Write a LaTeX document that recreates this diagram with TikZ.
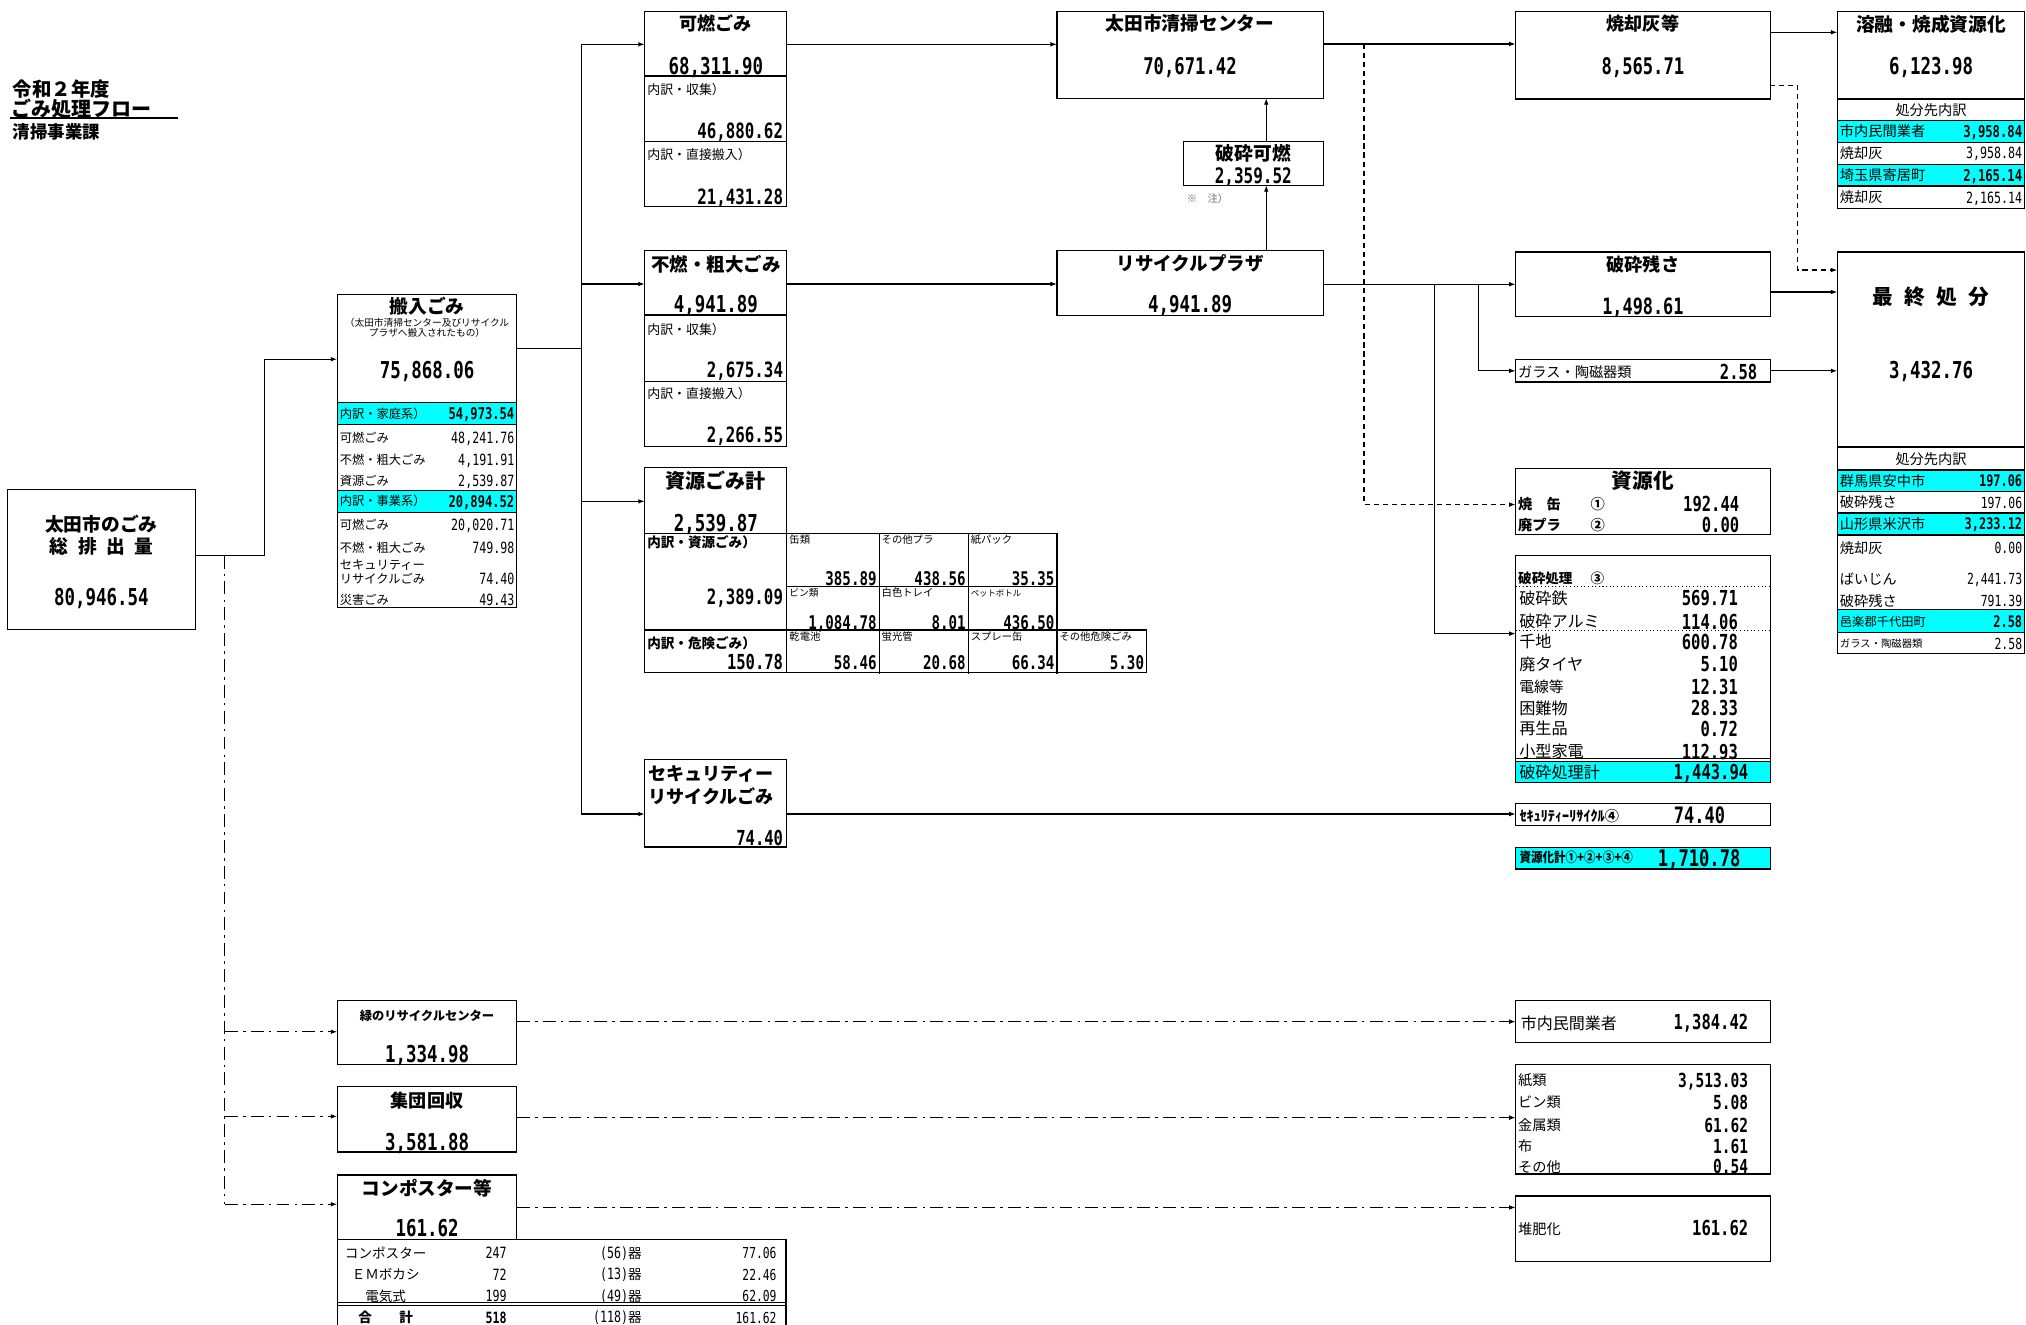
\documentclass[tikz,border=0pt]{standalone}
\usepackage{fontspec}
\usepackage{graphicx}
\setmainfont{Noto Sans CJK JP}
\newfontfamily\nf{DejaVu Sans Mono}[FakeStretch=0.75]
\usetikzlibrary{arrows.meta,fit}
\definecolor{cy}{RGB}{0,255,255}
\definecolor{notegray}{RGB}{110,110,110}
\newcounter{nn}
\newcommand\Lt[4]{\stepcounter{nn}\node[#1,anchor=west] (l\arabic{nn}) at (#2,#3) {#4};}
\newcommand\Rt[4]{\stepcounter{nn}\node[#1,anchor=east] (r\arabic{nn}) at (#2,#3) {#4};}
\newcommand\Ct[4]{\stepcounter{nn}\node[#1] (c\arabic{nn}) at (#2,#3) {#4};}
\newcommand\Bx[5]{\node[bx, fit={(#2,#3) (#4,#5)}] (#1) {};}
\tikzset{
  every node/.style={inner sep=0pt, outer sep=0pt},
  bx/.style={draw, line width=0.9pt, inner sep=0pt},
  ln/.style={line width=0.9pt},
  ar/.style={line width=0.9pt, -{Latex[length=5pt,width=3.6pt]}},
  dsh/.style={dash pattern=on 4pt off 3pt},
  ddot/.style={dash pattern=on 10pt off 4pt on 2pt off 4pt},
  jl/.style={font=\fontsize{#1}{#1}\selectfont, /utils/exec={\pgfmathsetmacro\myth{0.8*#1}\pgfmathsetmacro\mytd{0.06*#1}}, text height=\myth pt, text depth=\mytd pt},
  jb/.style={jl=#1, font=\bfseries\fontsize{#1}{#1}\selectfont},
  nr/.style={font=\nf\fontsize{#1}{#1}\selectfont, /utils/exec={\pgfmathsetmacro\myth{0.73*#1}}, text height=\myth pt, text depth=0pt},
  nb/.style={nr=#1, font=\nf\bfseries\fontsize{#1}{#1}\selectfont},
}
\begin{document}
\begin{tikzpicture}[x=1pt,y=-1pt]
\useasboundingbox (0,0) rectangle (1568,1025);
\clip (0,0) rectangle (1568,1025);
\fill[white] (0,0) rectangle (1568,1025);

% ---------- title
\Lt{jb=15}{10}{69}{令和２年度}
\Lt{jb=15.5}{9}{84.5}{ごみ処理フロー}
\draw[line width=1.1pt] (8,91.3) -- (138,91.3);
\Lt{jb=13.5}{10}{102}{清掃事業課}

% ---------- A total
\Bx{A}{6}{379}{151}{487}
\Ct{jb=14.5}{78.5}{406}{太田市のごみ}
\Ct{jb=14.5}{78.5}{423}{総\hspace{0.5em}排\hspace{0.5em}出\hspace{0.5em}量}
\Ct{nb=18}{78.5}{462}{80,946.54}

% ---------- B 搬入ごみ
\fill[cy] (261,311.5) rectangle (400,328.5);
\fill[cy] (261,379.5) rectangle (400,396.5);
\Bx{B}{261}{228}{400}{470}
\draw[ln] (261,311.5) -- (400,311.5) (261,328.5) -- (400,328.5) (261,379.5) -- (400,379.5) (261,396.5) -- (400,396.5);
\Ct{jb=14.5}{330.5}{237}{搬入ごみ}
\Ct{jl=7.5}{330.5}{250}{（太田市清掃センター及びリサイクル}
\Ct{jl=7.5}{330.5}{258}{プラザへ搬入されたもの）}
\Ct{nb=18}{330.5}{286}{75,868.06}
\Lt{jl=9.5}{263}{320}{内訳・家庭系）}\Rt{nb=12.5}{398}{320}{54,973.54}
\Lt{jl=9.5}{263}{339}{可燃ごみ}\Rt{nr=12}{398}{339}{48,241.76}
\Lt{jl=9.5}{263}{356}{不燃・粗大ごみ}\Rt{nr=12}{398}{356}{4,191.91}
\Lt{jl=9.5}{263}{372}{資源ごみ}\Rt{nr=12}{398}{372}{2,539.87}
\Lt{jl=9.5}{263}{388}{内訳・事業系）}\Rt{nb=12.5}{398}{388}{20,894.52}
\Lt{jl=9.5}{263}{406}{可燃ごみ}\Rt{nr=12}{398}{406}{20,020.71}
\Lt{jl=9.5}{263}{424}{不燃・粗大ごみ}\Rt{nr=12}{398}{424}{749.98}
\Lt{jl=9.5}{263}{437}{セキュリティー}
\Lt{jl=9.5}{263}{448}{リサイクルごみ}\Rt{nr=12}{398}{448}{74.40}
\Lt{jl=9.5}{263}{464.5}{災害ごみ}\Rt{nr=12}{398}{464.5}{49.43}

% ---------- 可燃ごみ
\Bx{K}{499}{9}{609}{160}
\draw[ln] (499,58.8) -- (609,58.8) (499,109.4) -- (609,109.4);
\Ct{jb=14}{554}{18.6}{可燃ごみ}
\Ct{nb=18}{554}{50.8}{68,311.90}
\Lt{jl=10}{501}{69.7}{内訳・収集）}
\Rt{nb=16.3}{606}{101.4}{46,880.62}
\Lt{jl=10}{501}{120}{内訳・直接搬入）}
\Rt{nb=16.3}{606}{152}{21,431.28}

% ---------- 不燃・粗大ごみ
\Bx{F}{499}{194}{609}{345.5}
\draw[ln] (499,243.8) -- (609,243.8) (499,295) -- (609,295);
\Ct{jb=14.3}{554}{204.6}{不燃・粗大ごみ}
\Ct{nb=18}{554}{235.5}{4,941.89}
\Lt{jl=10}{501}{255}{内訳・収集）}
\Rt{nb=16.3}{606}{286}{2,675.34}
\Lt{jl=10}{501}{305}{内訳・直接搬入）}
\Rt{nb=16.3}{606}{336.7}{2,266.55}

% ---------- 資源ごみ計
\Bx{S}{499}{362}{609}{520.6}
\draw[ln] (499,412.6) -- (818,412.6) -- (818,522);
\draw[ln] (609,454) -- (818,454);
\draw[ln] (499,487.6) -- (887.4,487.6) -- (887.4,520.6) -- (609,520.6);
\draw[ln] (680.4,412.6) -- (680.4,522) (749.3,412.6) -- (749.3,522);
\Ct{jb=15.5}{554}{372}{資源ごみ計}
\Ct{nb=18}{554}{405}{2,539.87}
\Lt{jb=10.5}{501}{419.5}{内訳・資源ごみ）}
\Rt{nb=16.3}{606}{462}{2,389.09}
\Lt{jb=10.5}{501}{498}{内訳・危険ごみ）}
\Rt{nb=16}{606}{512}{150.78}
\Lt{jl=8}{611}{418}{缶類}\Rt{nb=14.6}{678.4}{447.5}{385.89}
\Lt{jl=8}{682.4}{418}{その他プラ}\Rt{nb=14.6}{747.3}{447.5}{438.56}
\Lt{jl=8}{751.3}{418}{紙パック}\Rt{nb=14.6}{816}{447.5}{35.35}
\Lt{jl=7.5}{611}{459}{ビン類}\Rt{nb=14.6}{678.4}{481.5}{1,084.78}
\Lt{jl=8}{682.4}{459}{白色トレイ}\Rt{nb=14.6}{747.3}{481.5}{8.01}
\Lt{jl=6.5}{751.3}{459}{ペットボトル}\Rt{nb=14.6}{816}{481.5}{436.50}
\Lt{jl=8}{611}{493}{乾電池}\Rt{nb=14.6}{678.4}{513}{58.46}
\Lt{jl=8}{682.4}{493}{蛍光管}\Rt{nb=14.6}{747.3}{513}{20.68}
\Lt{jl=8}{751.3}{493}{スプレー缶}\Rt{nb=14.6}{816}{513}{66.34}
\Lt{jl=8}{820}{493}{その他危険ごみ}\Rt{nb=14.6}{885.4}{513}{5.30}

% ---------- セキュリティーリサイクルごみ
\Bx{SR}{499}{588}{609}{655.5}
\Lt{jb=14}{501.6}{599}{セキュリティー}
\Lt{jb=14}{501.6}{617}{リサイクルごみ}
\Rt{nb=16}{606}{648.6}{74.40}

% ---------- 清掃センター / 破砕可燃 / リサイクルプラザ
\Bx{CT}{818}{9}{1024}{76}
\Ct{jb=14.5}{921}{18.6}{太田市清掃センター}
\Ct{nb=17.8}{921}{50.8}{70,671.42}
\Bx{HK}{916}{109.4}{1024}{143.4}
\Ct{jb=14.5}{970}{119}{破砕可燃}
\Ct{nb=16.5}{970}{136}{2,359.52}
\Lt{jl=8,text=notegray}{918.6}{154}{※\hspace{1em}注）}
\Bx{PZ}{818}{194}{1024}{244}
\Ct{jb=14.3}{921}{204}{リサイクルプラザ}
\Ct{nb=18}{921}{235.5}{4,941.89}

% ---------- column 4
\Bx{ASH}{1173}{9}{1370}{76.6}
\Ct{jb=14}{1271.5}{18.7}{焼却灰等}
\Ct{nb=17.7}{1271.5}{51}{8,565.71}
\Bx{ZS}{1173}{195}{1370}{245}
\Ct{jb=14}{1271.5}{205}{破砕残さ}
\Ct{nb=17.4}{1271.5}{237}{1,498.61}
\Bx{GL}{1173}{278}{1370}{295.7}
\Lt{jl=11}{1175}{288}{ガラス・陶磁器類}
\Rt{nb=16}{1360}{287.5}{2.58}
\Bx{SG}{1173}{362.5}{1370}{413.8}
\Ct{jb=16}{1271.5}{372.3}{資源化}
\Lt{jb=11}{1175}{390.5}{焼　缶}\Lt{jb=11}{1231}{390.5}{①}\Rt{nb=16}{1346}{390}{192.44}
\Lt{jb=11}{1175}{406.5}{廃プラ}\Lt{jb=11}{1231}{406.5}{②}\Rt{nb=16}{1346}{406}{0.00}
\fill[cy] (1173,589) rectangle (1370,605.5);
\Bx{HS}{1173}{430}{1370}{605.5}
\draw[dotted, line width=0.8pt] (1173,454) -- (1370,454) (1173,488) -- (1370,488);
\draw[line width=0.6pt] (1173,587.3) -- (1370,587.3);
\draw[ln] (1173,589.3) -- (1370,589.3);
\Lt{jb=10.5}{1175}{447.5}{破砕処理}\Lt{jb=10.5}{1231}{447.5}{③}
\Lt{jl=12.5}{1175.8}{463}{破砕鉄}\Rt{nb=16}{1345}{463}{569.71}
\Lt{jl=12.5}{1175.8}{481}{破砕アルミ}\Rt{nb=16}{1345}{481}{114.06}
\Lt{jl=12.5}{1175.8}{496.6}{千地}\Rt{nb=16}{1345}{496.6}{600.78}
\Lt{jl=12.5}{1175.8}{514}{廃タイヤ}\Rt{nb=16}{1345}{514}{5.10}
\Lt{jl=11.5}{1175.8}{531.4}{電線等}\Rt{nb=16}{1345}{531.4}{12.31}
\Lt{jl=12.5}{1175.8}{548}{困難物}\Rt{nb=16}{1345}{548}{28.33}
\Lt{jl=12.5}{1175.8}{564}{再生品}\Rt{nb=16}{1345}{564}{0.72}
\Lt{jl=12.5}{1175.8}{581.7}{小型家電}\Rt{nb=16}{1345}{581.7}{112.93}
\Lt{jl=12.5}{1175.8}{598}{破砕処理計}\Rt{nb=16}{1353}{597.5}{1,443.94}
\Bx{S4}{1173}{622}{1370}{639}
\Lt{jb=11}{1176}{631.5}{ｾｷｭﾘﾃｨｰﾘｻｲｸﾙ④}
\Rt{nb=17.5}{1335}{631}{74.40}
\fill[cy] (1173,655.7) rectangle (1370,672.5);
\Bx{KEI}{1173}{655.7}{1370}{672.5}
\Lt{jb=10.5}{1176}{664}{\scalebox{0.85}[1]{資源化計①+②+③+④}}
\Rt{nb=17.7}{1347}{664}{1,710.78}
\Bx{MN}{1173}{774.5}{1370}{807}
\Lt{jl=12.4}{1177}{792}{市内民間業者}
\Rt{nb=16}{1353}{791}{1,384.42}
\Bx{KM}{1173}{824}{1370}{908.6}
\Lt{jl=11}{1175}{835.8}{紙類}\Rt{nb=15}{1353}{835.8}{3,513.03}
\Lt{jl=11}{1175}{853.4}{ビン類}\Rt{nb=15}{1353}{853.4}{5.08}
\Lt{jl=11}{1175}{870.7}{金属類}\Rt{nb=15}{1353}{870.7}{61.62}
\Lt{jl=11}{1175}{887}{布}\Rt{nb=15}{1353}{887}{1.61}
\Lt{jl=11}{1175}{903}{その他}\Rt{nb=15}{1353}{903}{0.54}
\Bx{TH}{1173}{925.6}{1370}{976}
\Lt{jl=11}{1175}{951.3}{堆肥化}
\Rt{nb=16}{1353}{950.5}{161.62}

% ---------- column 5
\fill[cy] (1422,93.4) rectangle (1567,110);
\fill[cy] (1422,127) rectangle (1567,144);
\Bx{YY}{1422}{9}{1567}{161.6}
\draw[ln] (1422,76.6) -- (1567,76.6) (1422,93.4) -- (1567,93.4) (1422,110) -- (1567,110) (1422,127) -- (1567,127) (1422,144) -- (1567,144);
\Ct{jb=14.5}{1494.5}{18.7}{溶融・焼成資源化}
\Ct{nb=18}{1494.5}{51}{6,123.98}
\Ct{jl=11}{1494.5}{85}{処分先内訳}
\Lt{jl=11}{1424}{101.7}{市内民間業者}\Rt{nb=12.6}{1565}{101.7}{3,958.84}
\Lt{jl=11}{1424}{118.5}{焼却灰}\Rt{nr=12}{1565}{118.5}{3,958.84}
\Lt{jl=11}{1424}{135.5}{埼玉県寄居町}\Rt{nb=12.6}{1565}{135.5}{2,165.14}
\Lt{jl=11}{1424}{152.8}{焼却灰}\Rt{nr=12}{1565}{152.8}{2,165.14}

\fill[cy] (1422,363.7) rectangle (1567,380.6);
\fill[cy] (1422,397) rectangle (1567,414);
\fill[cy] (1422,472) rectangle (1567,489.6);
\Bx{SS}{1422}{195}{1567}{506}
\draw[ln] (1422,346) -- (1567,346) (1422,363.7) -- (1567,363.7) (1422,380.6) -- (1567,380.6) (1422,397) -- (1567,397) (1422,414) -- (1567,414) (1422,472) -- (1567,472) (1422,489.6) -- (1567,489.6);
\Ct{jb=16}{1494.5}{230}{最\hspace{0.55em}終\hspace{0.55em}処\hspace{0.55em}分}
\Ct{nb=18}{1494.5}{286.6}{3,432.76}
\Ct{jl=11}{1494.5}{355.5}{処分先内訳}
\Lt{jl=11}{1424}{372.2}{群馬県安中市}\Rt{nb=12.3}{1565}{372.2}{197.06}
\Lt{jl=11}{1424}{389}{破砕残さ}\Rt{nr=11.8}{1565}{389}{197.06}
\Lt{jl=11}{1424}{405.5}{山形県米沢市}\Rt{nb=12.3}{1565}{405.5}{3,233.12}
\Lt{jl=11}{1424}{424}{焼却灰}\Rt{nr=11.8}{1565}{424}{0.00}
\Lt{jl=11}{1424}{448}{ばいじん}\Rt{nr=11.8}{1565}{448}{2,441.73}
\Lt{jl=11}{1424}{465}{破砕残さ}\Rt{nr=11.8}{1565}{465}{791.39}
\Lt{jl=9.5}{1424}{481}{邑楽郡千代田町}\Rt{nb=12.3}{1565}{481}{2.58}
\Lt{jl=8}{1424}{498.5}{ガラス・陶磁器類}\Rt{nr=11.8}{1565}{498.5}{2.58}

% ---------- bottom-left boxes
\Bx{GR}{261}{774}{400}{824}
\Ct{jb=9.5}{330.5}{786}{緑のリサイクルセンター}
\Ct{nb=18}{330.5}{815.7}{1,334.98}
\Bx{SH}{261}{841}{400}{891.6}
\Ct{jb=14}{330.5}{852}{集団回収}
\Ct{nb=18}{330.5}{883.6}{3,581.88}
\Bx{CP}{261}{909.4}{400}{959}
\Ct{jb=14.4}{330.5}{919.6}{コンポスター等}
\Ct{nb=18}{330.5}{950.5}{161.62}
\draw[ln] (261,959) -- (608.3,959);
\draw[ln] (261,959) -- (261,1030) (608.3,959) -- (608.3,1030);
\draw[line width=0.6pt] (261,1007.6) -- (608.3,1007.6) (261,1010) -- (608.3,1010);
\Ct{jl=10.5}{298.5}{969.9}{コンポスター}\Rt{nr=12}{392}{969.9}{247}
\Rt{jl=10.5}{496.6}{969.9}{{\nf\fontsize{12}{12}\selectfont(56)}器}\Rt{nr=11.7}{601}{969.9}{77.06}
\Ct{jl=10.5}{298.5}{986.7}{ＥＭボカシ}\Rt{nr=12}{392}{986.7}{72}
\Rt{jl=10.5}{496.6}{986.7}{{\nf\fontsize{12}{12}\selectfont(13)}器}\Rt{nr=11.7}{601}{986.7}{22.46}
\Ct{jl=10.5}{298.5}{1003}{電気式}\Rt{nr=12}{392}{1003}{199}
\Rt{jl=10.5}{496.6}{1003}{{\nf\fontsize{12}{12}\selectfont(49)}器}\Rt{nr=11.7}{601}{1003}{62.09}
\Ct{jb=10.5}{282.7}{1020}{合}\Ct{jb=10.5}{314.3}{1020}{計}\Rt{nb=12}{392}{1020}{518}
\Rt{jl=10.5}{496.6}{1020}{{\nf\fontsize{12}{12}\selectfont(118)}器}\Rt{nr=11.7}{601}{1020}{161.62}

% ---------- connectors
\draw[ar] (A.east |- 0,430) -- (205,430) |- (B.west |- 0,278);
\draw[ln,ddot] (174,430) -- (174,932);
\draw[ar,ddot] (174,798.5) -- (GR.west |- 0,798.5);
\draw[ar,ddot] (174,864) -- (SH.west |- 0,864);
\draw[ar,ddot] (174,932) -- (CP.west |- 0,932);
\draw[ln] (B.east |- 0,270) -- (450,270);
\draw[ln] (450,34.3) -- (450,630);
\draw[ar] (450,34.3) -- (K.west |- 0,34.3);
\draw[ar] (450,219.8) -- (F.west |- 0,219.8);
\draw[ar] (450,388) -- (S.west |- 0,388);
\draw[ar] (450,630) -- (SR.west |- 0,630);
\draw[ar] (K.east |- 0,34.3) -- (CT.west |- 0,34.3);
\draw[ar] (F.east |- 0,219.8) -- (PZ.west |- 0,219.8);
\draw[ar] (PZ.north -| 980,0) -- (HK.south -| 980,0);
\draw[ar] (HK.north -| 980,0) -- (CT.south -| 980,0);
\draw[ar] (CT.east |- 0,34) -- (ASH.west |- 0,34);
\draw[ar,dsh] (1055.6,34) -- (1055.6,390.5) -- (SG.west |- 0,390.5);
\draw[ar] (PZ.east |- 0,220) -- (ZS.west |- 0,220);
\draw[ar] (1110,220) -- (1110,490.4) -- (HS.west |- 0,490.4);
\draw[ar] (1144,220) -- (1144,287) -- (GL.west |- 0,287);
\draw[ar] (ASH.east |- 0,25) -- (YY.west |- 0,25);
\draw[ar,dsh] (ASH.east |- 0,66) -- (1391,66) -- (1391,209) -- (SS.west |- 0,209);
\draw[ar] (ZS.east |- 0,226) -- (SS.west |- 0,226);
\draw[ar] (GL.east |- 0,287) -- (SS.west |- 0,287);
\draw[ar] (SR.east |- 0,630) -- (S4.west |- 0,630);
\draw[ar,ddot] (GR.east |- 0,790.7) -- (MN.west |- 0,790.7);
\draw[ar,ddot] (SH.east |- 0,865) -- (KM.west |- 0,865);
\draw[ar,ddot] (CP.east |- 0,934.5) -- (TH.west |- 0,934.5);
\end{tikzpicture}
\end{document}
